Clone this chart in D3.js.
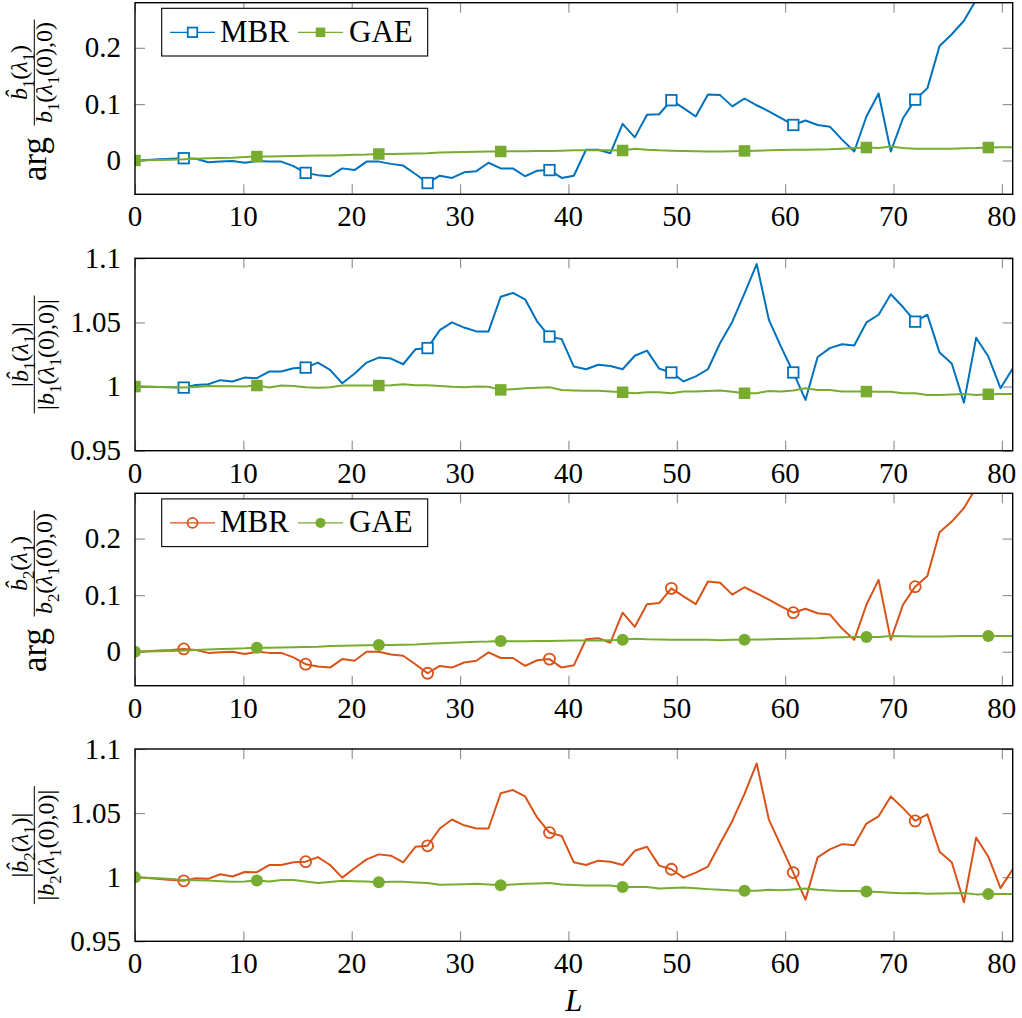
<!DOCTYPE html>
<html>
<head>
<meta charset="utf-8">
<script src="https://cdn.jsdelivr.net/npm/d3@7/dist/d3.min.js"></script>
<style>
  body { margin: 0; background: #fff; }
</style>
</head>
<body>
<div id="chart"></div>
<script>

// sample positions L
var L = [0, 1.125, 2.25, 3.375, 4.5, 5.625, 6.75, 7.875, 9, 10.125, 11.25, 12.375, 13.5, 14.625,
  15.75, 16.875, 18, 19.125, 20.25, 21.375, 22.5, 23.625, 24.75, 25.875, 27, 28.125, 29.25, 30.375,
  31.5, 32.625, 33.75, 34.875, 36, 37.125, 38.25, 39.375, 40.5, 41.625, 42.75, 43.875, 45, 46.125,
  47.25, 48.375, 49.5, 50.625, 51.75, 52.875, 54, 55.125, 56.25, 57.375, 58.5, 59.625, 60.75, 61.875,
  63, 64.125, 65.25, 66.375, 67.5, 68.625, 69.75, 70.875, 72, 73.125, 74.25, 75.375, 76.5, 77.625,
  78.75, 79.875, 81];

var mbrMarks = [4, 14, 24, 34, 44, 54, 64];
var gaeMarks = [0, 10, 20, 30, 40, 50, 60, 70];

var xTicks = [0, 10, 20, 30, 40, 50, 60, 70, 80];
var argTicks = [0, 0.1, 0.2];
var magTicks = [0.95, 1, 1.05, 1.1];

// panel 1: arg b1
var mbrArg1 = [0, 0.001, 0.002, 0.003, 0.004, 0.003, -0.003, -0.002, -0.001, -0.004,
  -0.001, -0.002, -0.002, -0.010, -0.022, -0.026, -0.028, -0.014, -0.017, -0.002,
  -0.002, -0.006, -0.009, -0.024, -0.040, -0.027, -0.031, -0.021, -0.019, -0.004,
  -0.014, -0.014, -0.028, -0.018, -0.017, -0.031, -0.027, 0.019, 0.019, 0.013,
  0.065, 0.041, 0.081, 0.082, 0.107, 0.093, 0.078, 0.117, 0.116, 0.096,
  0.110, 0.098, 0.087, 0.075, 0.063, 0.071, 0.063, 0.060, 0.037, 0.016,
  0.078, 0.119, 0.016, 0.075, 0.108, 0.128, 0.203, 0.224, 0.248, 0.285,
  0.31, 0.34, 0.37];
var gaeArg1 = [0, 0.0005, 0.001, 0.0015, 0.002, 0.003, 0.004, 0.0045, 0.005, 0.006,
  0.007, 0.007, 0.0075, 0.008, 0.0085, 0.009, 0.009, 0.0095, 0.010, 0.0105,
  0.0115, 0.0115, 0.012, 0.0125, 0.013, 0.014, 0.0145, 0.015, 0.0155, 0.016,
  0.016, 0.0165, 0.0165, 0.017, 0.017, 0.0175, 0.018, 0.018, 0.018, 0.018,
  0.0177, 0.021, 0.019, 0.018, 0.0175, 0.017, 0.0165, 0.016, 0.016, 0.0165,
  0.017, 0.0175, 0.018, 0.0185, 0.019, 0.019, 0.0195, 0.020, 0.021, 0.022,
  0.023, 0.022, 0.025, 0.022, 0.021, 0.021, 0.021, 0.021, 0.0215, 0.022,
  0.023, 0.0235, 0.0236];

// panel 2: |b1|
var mbrMag1 = [1.000, 0.9998, 0.9996, 0.9994, 0.9992, 1.0012, 1.0018, 1.005, 1.004, 1.007,
  1.0065, 1.0117, 1.0117, 1.0143, 1.0148, 1.0187, 1.013, 1.0026, 1.010, 1.0187,
  1.0226, 1.0218, 1.0174, 1.029, 1.030, 1.044, 1.050, 1.046, 1.043, 1.043,
  1.070, 1.073, 1.068, 1.0506, 1.039, 1.037, 1.0156, 1.0135, 1.017, 1.016,
  1.0135, 1.024, 1.028, 1.014, 1.011, 1.004, 1.008, 1.0135, 1.034, 1.0506,
  1.0727, 1.0955, 1.052, 1.031, 1.011, 0.9896, 1.023, 1.030, 1.033, 1.032,
  1.050, 1.056, 1.072, 1.062, 1.0506, 1.056, 1.0265, 1.018, 0.9875, 1.038,
  1.0234, 0.9987, 1.014];
var gaeMag1 = [1.000, 0.9998, 0.9996, 0.9994, 0.9992, 0.9996, 1.0005, 1.0003, 1.0002, 1.0001,
  1.0008, 0.9992, 1.0008, 1.0005, 0.9995, 0.999, 0.9995, 1.0008, 1.0008, 1.0008,
  1.0008, 1.001, 1.0018, 1.001, 1.001, 1.0005, 0.9998, 0.9995, 1.0, 0.9998,
  0.9974, 0.998, 0.9987, 0.999, 0.9995, 0.9974, 0.997, 0.9968, 0.9968, 0.9962,
  0.9956, 0.9948, 0.9956, 0.9955, 0.9948, 0.9961, 0.9961, 0.9965, 0.9969, 0.996,
  0.9948, 0.9948, 0.9966, 0.9962, 0.997, 0.9987, 0.9974, 0.9974, 0.9961, 0.9961,
  0.9961, 0.996, 0.9959, 0.9948, 0.9948, 0.9935, 0.9935, 0.9938, 0.9943, 0.9935,
  0.994, 0.9942, 0.9943];

// panel 3: arg b2
var mbrArg2 = [0, 0.001, 0.002, 0.003, 0.005, 0.003, -0.002, -0.001, 0, -0.004,
  0, -0.002, -0.002, -0.010, -0.022, -0.026, -0.028, -0.013, -0.016, 0,
  0, -0.005, -0.007, -0.022, -0.038, -0.025, -0.028, -0.019, -0.016, -0.001,
  -0.011, -0.011, -0.025, -0.015, -0.013, -0.028, -0.024, 0.022, 0.024, 0.016,
  0.069, 0.044, 0.084, 0.086, 0.112, 0.098, 0.084, 0.124, 0.122, 0.101,
  0.114, 0.103, 0.092, 0.080, 0.069, 0.076, 0.068, 0.066, 0.041, 0.021,
  0.083, 0.127, 0.021, 0.083, 0.115, 0.134, 0.211, 0.230, 0.254, 0.29,
  0.32, 0.35, 0.38];
var gaeArg2 = [0, 0.0005, 0.001, 0.0015, 0.002, 0.003, 0.004, 0.005, 0.0055, 0.006,
  0.007, 0.0072, 0.0075, 0.008, 0.0085, 0.009, 0.010, 0.0105, 0.011, 0.0115,
  0.012, 0.012, 0.0125, 0.013, 0.014, 0.015, 0.016, 0.017, 0.0175, 0.018,
  0.019, 0.0185, 0.0185, 0.019, 0.019, 0.0195, 0.020, 0.020, 0.020, 0.0205,
  0.021, 0.023, 0.022, 0.0215, 0.021, 0.021, 0.021, 0.021, 0.0205, 0.021,
  0.021, 0.0215, 0.022, 0.0225, 0.023, 0.0235, 0.024, 0.025, 0.0255, 0.026,
  0.026, 0.026, 0.028, 0.0275, 0.027, 0.027, 0.027, 0.0275, 0.028, 0.028,
  0.028, 0.028, 0.028];

// panel 4: |b2|
var mbrMag2 = [1.000, 0.9993, 0.9986, 0.9979, 0.9972, 0.9992, 0.9987, 1.0023, 1.0005, 1.0041,
  1.0039, 1.0095, 1.0095, 1.0116, 1.0121, 1.0157, 1.0095, 0.9997, 1.007, 1.0139,
  1.0178, 1.0168, 1.0116, 1.0237, 1.0245, 1.038, 1.045, 1.0405, 1.038, 1.038,
  1.0655, 1.068, 1.063, 1.0464, 1.0348, 1.0322, 1.0116, 1.0095, 1.0129, 1.0121,
  1.0095, 1.0206, 1.0237, 1.009, 1.0062, 0.9997, 1.0036, 1.0083, 1.0263, 1.0439,
  1.065, 1.0887, 1.0449, 1.0243, 1.0036, 0.9825, 1.0155, 1.0217, 1.0258, 1.025,
  1.0418, 1.0475, 1.063, 1.0539, 1.0439, 1.049, 1.0199, 1.0116, 0.9804, 1.031,
  1.016, 0.9915, 1.0062];
var gaeMag2 = [1.0, 0.9996, 0.9992, 0.9986, 0.9979, 0.9976, 0.9974, 0.9969, 0.9964, 0.9966,
  0.9974, 0.9966, 0.9979, 0.9979, 0.9966, 0.9954, 0.9963, 0.9972, 0.9969, 0.9966,
  0.9961, 0.9964, 0.9964, 0.9959, 0.9954, 0.9941, 0.9943, 0.9945, 0.9948, 0.9943,
  0.9938, 0.9943, 0.9948, 0.9951, 0.9954, 0.9943, 0.994, 0.9936, 0.9936, 0.9936,
  0.9923, 0.9923, 0.9923, 0.9912, 0.9915, 0.992, 0.9913, 0.9907, 0.9902, 0.9897,
  0.9894, 0.9894, 0.9902, 0.9899, 0.9905, 0.9912, 0.9902, 0.9897, 0.9892, 0.9892,
  0.9889, 0.9884, 0.9879, 0.9874, 0.9876, 0.9871, 0.9872, 0.9874, 0.9876, 0.9866,
  0.9868, 0.9868, 0.9868];

var blue = "#0072BD", orange = "#D95319", green = "#77AC30";
var serif = "Liberation Serif";
var fontSize = 29;

var width = 1022, height = 1018;
var left = 135, right = 1012.7;

var svg = d3.select("#chart")
  .append("svg")
  .attr("width", width)
  .attr("height", height)
  .attr("font-family", serif);

svg.append("rect").attr("width", width).attr("height", height).attr("fill", "#fff");

var x = d3.scaleLinear().domain([0, 81]).range([left, right]);

// math label pieces: [text, style]  style: "i" italic, "s" subscript, "" upright
var num1 = [["b\u0302", "i"], ["1", "s"], ["(", ""], ["\u03BB", "i"], ["1", "s"], [")", ""]];
var den1 = [["b", "i"], ["1", "s"], ["(", ""], ["\u03BB", "i"], ["1", "s"], ["(0),0)", ""]];
var num2 = [["b\u0302", "i"], ["2", "s"], ["(", ""], ["\u03BB", "i"], ["1", "s"], [")", ""]];
var den2 = [["b", "i"], ["2", "s"], ["(", ""], ["\u03BB", "i"], ["1", "s"], ["(0),0)", ""]];

function bars(parts) {
  return [["|", ""]].concat(parts, [["|", ""]]);
}

var panels = [
  { top: 2.7, bottom: 194.3, dom: [-0.06, 0.28], ticks: argTicks, mbr: mbrArg1, gae: gaeArg1,
    col: blue, shape: "square", legend: true, arg: true, num: num1, den: den1 },
  { top: 258.3, bottom: 450.7, dom: [0.95, 1.1], ticks: magTicks, mbr: mbrMag1, gae: gaeMag1,
    col: blue, shape: "square", legend: false, arg: false, num: bars(num1), den: bars(den1) },
  { top: 493.3, bottom: 685.7, dom: [-0.06, 0.28], ticks: argTicks, mbr: mbrArg2, gae: gaeArg2,
    col: orange, shape: "circle", legend: true, arg: true, num: num2, den: den2 },
  { top: 749, bottom: 941.3, dom: [0.95, 1.1], ticks: magTicks, mbr: mbrMag2, gae: gaeMag2,
    col: orange, shape: "circle", legend: false, arg: false, num: bars(num2), den: bars(den2) }
];

function mathText(g, parts, size, tx, ty) {
  var t = g.append("text")
    .attr("transform", "translate(" + tx + "," + ty + ") rotate(-90)")
    .attr("text-anchor", "middle")
    .attr("font-family", serif)
    .attr("font-size", size);
  var shift = 0;
  parts.forEach(function (p) {
    var want = p[1] == "s" ? size * 0.3 : 0;
    t.append("tspan")
      .attr("dy", want - shift)
      .attr("font-size", p[1] == "s" ? size * 0.7 : size)
      .attr("font-style", p[1] == "i" ? "italic" : "normal")
      .text(p[0]);
    shift = want;
  });
  return t;
}

function drawMarker(g, shape, filled, colour, cx, cy, s) {
  if (shape == "square") {
    g.append("rect")
      .attr("x", cx - s / 2).attr("y", cy - s / 2)
      .attr("width", s).attr("height", s)
      .attr("fill", filled ? colour : "#fff")
      .attr("stroke", colour)
      .attr("stroke-width", filled ? 0 : 1.8);
  } else {
    g.append("circle")
      .attr("cx", cx).attr("cy", cy)
      .attr("r", s / 2)
      .attr("fill", filled ? colour : "none")
      .attr("stroke", colour)
      .attr("stroke-width", filled ? 0 : 1.8);
  }
}

panels.forEach(function (p, k) {
  var y = d3.scaleLinear().domain(p.dom).range([p.bottom, p.top]);
  var g = svg.append("g");

  g.append("clipPath").attr("id", "clip" + k)
    .append("rect")
    .attr("x", left).attr("y", p.top)
    .attr("width", right - left).attr("height", p.bottom - p.top);

  // tick marks, inside on all four sides
  g.append("g").attr("transform", "translate(0," + p.bottom + ")")
    .call(d3.axisBottom(x).tickValues(xTicks).tickSize(-10).tickFormat(""));
  g.append("g").attr("transform", "translate(0," + p.top + ")")
    .call(d3.axisTop(x).tickValues(xTicks).tickSize(-10).tickFormat(""));
  g.append("g").attr("transform", "translate(" + left + ",0)")
    .call(d3.axisLeft(y).tickValues(p.ticks).tickSize(-10).tickFormat(""));
  g.append("g").attr("transform", "translate(" + right + ",0)")
    .call(d3.axisRight(y).tickValues(p.ticks).tickSize(-10).tickFormat(""));
  g.selectAll(".domain").remove();
  g.selectAll(".tick line").attr("stroke", "#8c8c8c").attr("stroke-width", 1.1);

  // tick labels
  g.selectAll(".xlab").data(xTicks).enter().append("text")
    .attr("class", "xlab")
    .attr("x", function (d) { return x(d); })
    .attr("y", p.bottom + 32)
    .attr("text-anchor", "middle")
    .attr("font-family", serif)
    .attr("font-size", fontSize)
    .attr("fill", "#000")
    .text(function (d) { return String(d); });
  g.selectAll(".ylab").data(p.ticks).enter().append("text")
    .attr("class", "ylab")
    .attr("x", left - 14)
    .attr("y", function (d) { return y(d) + 9.5; })
    .attr("text-anchor", "end")
    .attr("font-family", serif)
    .attr("font-size", fontSize)
    .attr("fill", "#000")
    .text(function (d) { return String(d); });

  // series
  var plot = g.append("g").attr("clip-path", "url(#clip" + k + ")");
  var line = d3.line()
    .x(function (d, i) { return x(L[i]); })
    .y(function (d) { return y(d); });

  plot.append("path").datum(p.mbr)
    .attr("d", line).attr("fill", "none")
    .attr("stroke", p.col).attr("stroke-width", 2).attr("stroke-linejoin", "round");
  mbrMarks.forEach(function (i) {
    drawMarker(plot, p.shape, false, p.col, x(L[i]), y(p.mbr[i]), p.shape == "square" ? 10.5 : 11);
  });

  plot.append("path").datum(p.gae)
    .attr("d", line).attr("fill", "none")
    .attr("stroke", green).attr("stroke-width", 2).attr("stroke-linejoin", "round");
  gaeMarks.forEach(function (i) {
    drawMarker(plot, p.shape, true, green, x(L[i]), y(p.gae[i]), p.shape == "square" ? 11.5 : 12);
  });

  // frame
  g.append("rect")
    .attr("x", left).attr("y", p.top)
    .attr("width", right - left).attr("height", p.bottom - p.top)
    .attr("fill", "none").attr("stroke", "#000").attr("stroke-width", 1.4);

  // y label
  var mid = (p.top + p.bottom) / 2;
  if (p.arg) {
    g.append("text")
      .attr("transform", "translate(46," + (mid + 60.5) + ") rotate(-90)")
      .attr("text-anchor", "middle")
      .attr("font-family", serif)
      .attr("font-size", 35)
      .text("arg");
    var fc = mid - 26;
    mathText(g, p.num, 24, 27, fc);
    mathText(g, p.den, 24, 52, fc);
    g.append("line").attr("x1", 34.3).attr("x2", 34.3)
      .attr("y1", fc - 53).attr("y2", fc + 53)
      .attr("stroke", "#000").attr("stroke-width", 1);
  } else {
    mathText(g, p.num, 24, 28, mid);
    mathText(g, p.den, 24, 54, mid);
    g.append("line").attr("x1", 34.3).attr("x2", 34.3)
      .attr("y1", mid - 59).attr("y2", mid + 59)
      .attr("stroke", "#000").attr("stroke-width", 1);
  }

  // legend
  if (p.legend) {
    var lg = g.append("g").attr("transform", "translate(161.7," + (p.top + 5.6) + ")");
    lg.append("rect").attr("width", 266).attr("height", 47.7)
      .attr("fill", "#fff").attr("stroke", "#000").attr("stroke-width", 1.1);
    var ly = 24;
    var entries = [
      { name: "MBR", col: p.col, filled: false, x0: 8.3, tx: 58.3 },
      { name: "GAE", col: green, filled: true, x0: 136.3, tx: 187.3 }
    ];
    entries.forEach(function (e) {
      lg.append("line").attr("x1", e.x0).attr("x2", e.x0 + 45)
        .attr("y1", ly).attr("y2", ly)
        .attr("stroke", e.col).attr("stroke-width", 1.3);
      drawMarker(lg, p.shape, e.filled, e.col, e.x0 + 22.5, ly, p.shape == "square" ? 9.5 : 10);
      lg.append("text").attr("x", e.tx).attr("y", 33.4)
        .attr("font-family", serif)
        .attr("font-size", 31).text(e.name);
    });
  }
});

svg.append("text")
  .attr("x", (left + right) / 2).attr("y", 1011)
  .attr("text-anchor", "middle")
  .attr("font-family", serif)
  .attr("font-size", 31).attr("font-style", "italic")
  .text("L");

</script>
</body>
</html>
